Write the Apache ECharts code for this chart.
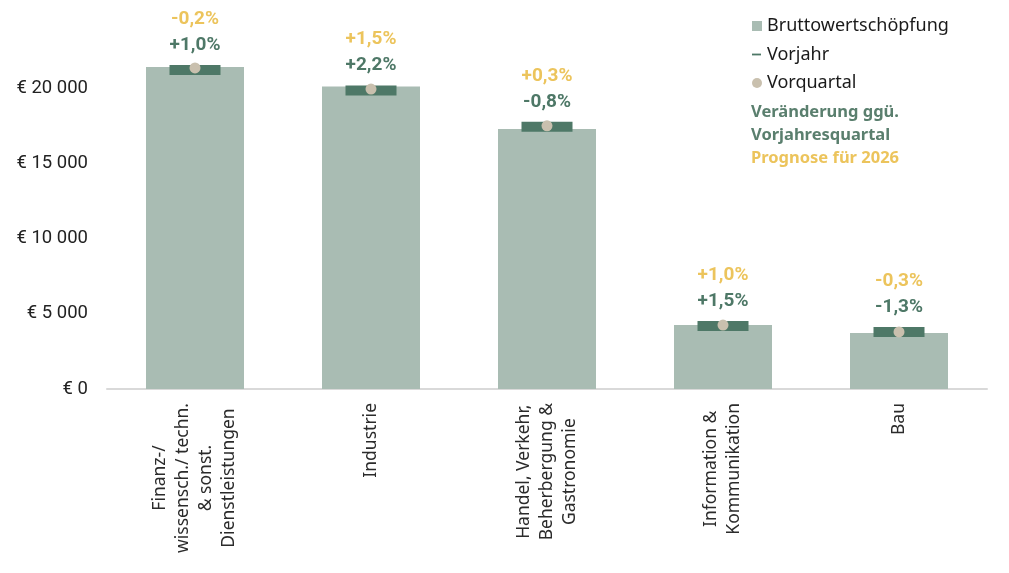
<!DOCTYPE html>
<html>
<head>
<meta charset="utf-8">
<script src="https://cdn.jsdelivr.net/npm/echarts@6/dist/echarts.min.js"></script>
<style>
  html, body { margin: 0; padding: 0; background: #fff; }
  #chart { width: 1009px; height: 573px; }
</style>
</head>
<body>
<div id="chart"></div>
<script>
// Kategorien und Werte (in Mio. €)
var categories = [
    'Finanz-/\nwissensch./ techn.\n& sonst.\nDienstleistungen',
    'Industrie',
    'Handel, Verkehr,\nBeherbergung &\nGastronomie',
    'Information &\nKommunikation',
    'Bau'
]
var bruttowertschoepfung = [21400, 20100, 17280, 4250, 3720]
var vorjahr = [21190, 19830, 17420, 4190, 3780]
var vorquartal = [21330, 19930, 17490, 4250, 3790]
// Veränderung ggü. Vorjahresquartal / Prognose für 2026 (in %)
var changeYoY = [1.0, 2.2, -0.8, 1.5, -1.3]
var forecast2026 = [-0.2, 1.5, 0.3, 1.0, -0.3]
var yTicks = [0, 5000, 10000, 15000, 20000]

var GREEN = '#4e7867'
var BAR = '#a9bcb3'
var DOT = '#c9c0ae'
var YELLOW = '#ecc45c'
var TEXTGREEN = '#5a7f6e'

function pct(v){
    return (v >= 0 ? '+' : '-') + Math.abs(v).toFixed(1).replace('.', ',') + '%'
}

function euro(v){
    return '€ ' + String(v).replace(/\B(?=(\d{3})+(?!\d))/g, ' ')
}

var chart = echarts.init(document.getElementById('chart'))

var option = {
    animation: false,
    grid: { left: 107, right: 22, top: 12.75, bottom: 184 },
    legend: {
        orient: 'vertical',
        left: 752,
        top: 16,
        padding: 0,
        itemWidth: 10,
        itemHeight: 10,
        itemGap: 8.5,
        textStyle: { fontFamily: 'Noto Sans', fontSize: 18, color: '#1a1a1a', lineHeight: 20 },
        data: [
            { name: 'Bruttowertschöpfung', icon: 'rect' },
            { name: 'Vorjahr', icon: 'path://M0,0 M0,4.1 L9,4.1 L9,5.9 L0,5.9 Z M10,10' },
            { name: 'Vorquartal', icon: 'circle' }
        ]
    },
    graphic: [{
        type: 'text',
        left: 751,
        top: 103.5,
        style: {
            text: '{g|Veränderung ggü.}\n{g|Vorjahresquartal}\n{y|Prognose für 2026}',
            rich: {
                g: { fill: TEXTGREEN, fontFamily: 'Noto Sans', fontWeight: 'bold', fontSize: 16.5, lineHeight: 23 },
                y: { fill: YELLOW, fontFamily: 'Noto Sans', fontWeight: 'bold', fontSize: 16.5, lineHeight: 23 }
            }
        }
    }],
    xAxis: {
        type: 'category',
        data: categories,
        axisTick: { show: false },
        axisLine: { lineStyle: { color: '#d9d9d9', width: 2 } },
        axisLabel: {
            rotate: 90,
            margin: 14,
            interval: 0,
            formatter: function(v){
                return v.split('\n').map(function(l){ return '{c|' + l + '}' }).join('\n')
            },
            rich: {
                c: { align: 'center', fontFamily: 'Noto Sans', fontSize: 17.5, lineHeight: 23, color: '#2b2b2b' }
            }
        }
    },
    yAxis: {
        type: 'value',
        min: 0,
        max: 25000,
        interval: 5000,
        splitLine: { show: false },
        axisLine: { show: false },
        axisTick: { show: false },
        axisLabel: {
            margin: 19,
            fontFamily: 'Roboto',
            fontSize: 18.5,
            color: '#222',
            formatter: function(v){
                return yTicks.indexOf(v) >= 0 ? euro(v) : ''
            }
        }
    },
    series: [
        {
            name: 'Bruttowertschöpfung',
            type: 'bar',
            data: bruttowertschoepfung,
            barWidth: 98,
            itemStyle: { color: BAR }
        },
        {
            name: 'Vorjahr',
            type: 'scatter',
            data: vorjahr,
            symbol: 'rect',
            symbolSize: [51, 10],
            itemStyle: { color: GREEN, opacity: 1 },
            label: {
                show: true,
                position: 'top',
                distance: 7,
                formatter: function(p){
                    return '{y|' + pct(forecast2026[p.dataIndex]) + '}\n{g|' + pct(changeYoY[p.dataIndex]) + '}'
                },
                rich: {
                    y: { color: YELLOW, fontFamily: 'Roboto', fontWeight: 'bold', fontSize: 19, lineHeight: 26 },
                    g: { color: GREEN, fontFamily: 'Roboto', fontWeight: 'bold', fontSize: 19, lineHeight: 26 }
                }
            },
            z: 3
        },
        {
            name: 'Vorquartal',
            type: 'scatter',
            data: vorquartal,
            symbol: 'circle',
            symbolSize: 11,
            itemStyle: { color: DOT, opacity: 1 },
            z: 4
        }
    ]
}

chart.setOption(option)
</script>
</body>
</html>
